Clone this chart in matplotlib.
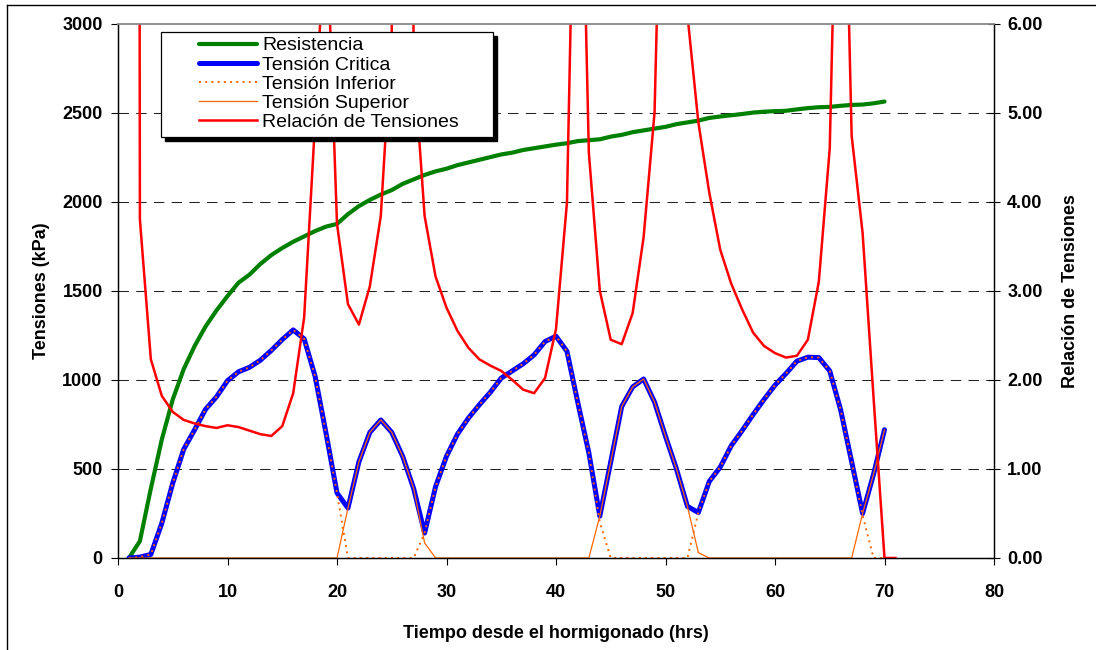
import matplotlib
matplotlib.use("Agg")
import matplotlib.pyplot as plt
from matplotlib.lines import Line2D
from matplotlib.patches import Rectangle

plt.rcParams['font.family'] = ['Liberation Sans', 'DejaVu Sans']

# ---------------- data ----------------
hours = list(range(1, 71))
hours_ratio = list(range(1, 72))

resistencia = [0, 95, 390, 665, 890, 1060, 1190, 1300, 1390, 1470,
               1545, 1590, 1650, 1700, 1740, 1775, 1805, 1835, 1860, 1875,
               1930, 1975, 2010, 2040, 2065, 2100, 2125, 2150, 2170, 2185,
               2205, 2220, 2235, 2250, 2265, 2275, 2290, 2300, 2310, 2320,
               2328, 2340, 2345, 2350, 2365, 2375, 2390, 2400, 2410, 2420,
               2435, 2445, 2455, 2470, 2478, 2485, 2492, 2500, 2505, 2508,
               2510, 2518, 2525, 2530, 2532, 2538, 2543, 2545, 2552, 2562]

critica = [0, 5, 20, 195, 420, 610, 720, 835, 905, 995,
           1045, 1070, 1110, 1165, 1226, 1280, 1230, 1020, 700, 365,
           280, 540, 705, 775, 705, 570, 390, 140, 400, 571,
           695, 785, 860, 930, 1010, 1050, 1090, 1140, 1215, 1245,
           1160, 870, 590, 235, 540, 850, 960, 1005, 875, 683,
           500, 290, 255, 430, 510, 630, 715, 805, 890, 970,
           1035, 1105, 1127, 1125, 1050, 830, 540, 250, 470, 720]

inferior = [0, 5, 20, 195, 420, 610, 720, 835, 905, 995,
            1045, 1070, 1110, 1165, 1226, 1280, 1230, 1020, 700, 365,
            0, 0, 0, 0, 0, 0, 0, 140, 400, 571,
            695, 785, 860, 930, 1010, 1050, 1090, 1140, 1215, 1245,
            1160, 870, 590, 200, 0, 0, 0, 0, 0, 0,
            0, 0, 255, 430, 510, 630, 715, 805, 890, 970,
            1035, 1105, 1127, 1125, 1050, 830, 540, 240, 0, 0]

superior = [0, 0, 0, 0, 0, 0, 0, 0, 0, 0,
            0, 0, 0, 0, 0, 0, 0, 0, 0, 0,
            280, 540, 705, 775, 705, 570, 390, 85, 0, 0,
            0, 0, 0, 0, 0, 0, 0, 0, 0, 0,
            0, 0, 0, 235, 540, 850, 960, 1005, 875, 683,
            500, 290, 30, 0, 0, 0, 0, 0, 0, 0,
            0, 0, 0, 0, 0, 0, 0, 250, 470, 720]

relacion = [100, 3.80, 2.23, 1.82, 1.64, 1.55, 1.51, 1.48, 1.46, 1.49,
            1.47, 1.43, 1.39, 1.37, 1.48, 1.85, 2.70, 4.90, 7.30, 3.75,
            2.85, 2.62, 3.05, 3.84, 5.90, 30.0, 5.60, 3.84, 3.16, 2.81,
            2.55, 2.36, 2.23, 2.16, 2.10, 2.00, 1.89, 1.85, 2.02, 2.57,
            3.99, 10.0, 4.55, 3.00, 2.45, 2.40, 2.75, 3.60, 5.00, 10.0,
            20.0, 6.10, 4.89, 4.10, 3.46, 3.08, 2.79, 2.53, 2.38, 2.30,
            2.25, 2.27, 2.45, 3.10, 4.60, 10.0, 4.74, 3.65, 1.80, 0.00,
            0.00]

x_ticks = [0, 10, 20, 30, 40, 50, 60, 70, 80]
y_ticks = [0, 500, 1000, 1500, 2000, 2500, 3000]
y2_ticks = [0, 1, 2, 3, 4, 5, 6]

# ---------------- figure ----------------
W, H = 1096, 650
fig = plt.figure(figsize=(W / 100, H / 100), dpi=100)
L, R, T, B = 118, 994, 23.5, 558
ax = fig.add_axes([L / W, 1 - B / H, (R - L) / W, (B - T) / H])
ax2 = ax.twinx()

GREEN = '#008000'
BLUE = '#0000FF'
ORANGE = '#FF6600'
RED = '#FF0000'

# grid lines
for yv in y_ticks[1:-1]:
    ax.axhline(yv, color='#222222', lw=0.75, linestyle=(0, (10, 7)), zorder=0.5)

l1, = ax.plot(hours, resistencia, color=GREEN, lw=3.0, label='Resistencia',
              solid_capstyle='round', solid_joinstyle='round', zorder=2)
l2, = ax.plot(hours, critica, color=BLUE, lw=3.6, label='Tensión Critica',
              solid_capstyle='round', solid_joinstyle='round', zorder=2.1)
l3, = ax.plot(hours, inferior, color=ORANGE, lw=1.4, linestyle=(0, (1, 2.2)),
              label='Tensión Inferior', zorder=2.3)
l4, = ax.plot(hours, superior, color=ORANGE, lw=0.9, label='Tensión Superior',
              zorder=2.2)
l5, = ax2.plot(hours_ratio, relacion, color=RED, lw=1.8,
               label='Relación de Tensiones', zorder=2)

ax.set_xlim(0, 80)
ax.set_ylim(0, 3000)
ax2.set_ylim(0, 6)

ax.set_xticks(x_ticks)
ax.set_yticks(y_ticks)
ax2.set_yticks(y2_ticks)
ax2.set_yticklabels(['%.2f' % v for v in y2_ticks])

for lab in ax.get_xticklabels() + ax.get_yticklabels() + ax2.get_yticklabels():
    lab.set_fontsize(13)
    lab.set_fontweight('bold')

ax.tick_params(axis='x', direction='out', length=5, width=0.8, pad=14)
ax.tick_params(axis='y', direction='out', length=5, width=0.8, pad=6)
ax2.tick_params(axis='y', direction='inout', length=9, width=0.8, pad=5)

ax.set_xlabel('Tiempo desde el hormigonado (hrs)', fontsize=13,
              fontweight='bold', labelpad=17)
ax.set_ylabel('Tensiones (kPa)', fontsize=13, fontweight='bold', labelpad=9)
ax2.set_ylabel('Relación de Tensiones', fontsize=13, fontweight='bold',
               labelpad=14)

for a in (ax, ax2):
    a.spines['top'].set_color('#909090')
    a.spines['top'].set_linewidth(1.2)
    for s in ('left', 'right', 'bottom'):
        a.spines[s].set_color('black')
        a.spines[s].set_linewidth(0.9)

# legend frame with hard shadow
lx0, lx1, ly0, ly1 = 161, 493, 32, 137
fx = lambda px: (px - L) / (R - L)
fy = lambda py: (B - py) / (B - T)
shadow = Rectangle((fx(lx0 + 4), fy(ly1 + 4)), fx(lx1) - fx(lx0), fy(ly0) - fy(ly1),
                   transform=ax2.transAxes, facecolor='black', edgecolor='black',
                   zorder=4, clip_on=False)
frame = Rectangle((fx(lx0), fy(ly1)), fx(lx1) - fx(lx0), fy(ly0) - fy(ly1),
                  transform=ax2.transAxes, facecolor='white', edgecolor='black',
                  lw=0.9, zorder=4.1, clip_on=False)
ax2.add_patch(shadow)
ax2.add_patch(frame)

leg = ax2.legend(handles=[l1, l2, l3, l4, l5], loc='center left',
                 bbox_to_anchor=(fx(199), fy(84)), frameon=False,
                 fontsize=14, handlelength=3.0, handletextpad=0.25,
                 labelspacing=0.08, borderpad=0, borderaxespad=0)
leg.set_zorder(5)

# outer figure border (left and top)
fig.add_artist(Line2D([7 / W, 7 / W], [0, 1 - 5 / H], color='black', lw=1.0))
fig.add_artist(Line2D([7 / W, 1], [1 - 5 / H, 1 - 5 / H], color='black', lw=1.0))

fig.savefig('out.png', dpi=100)
